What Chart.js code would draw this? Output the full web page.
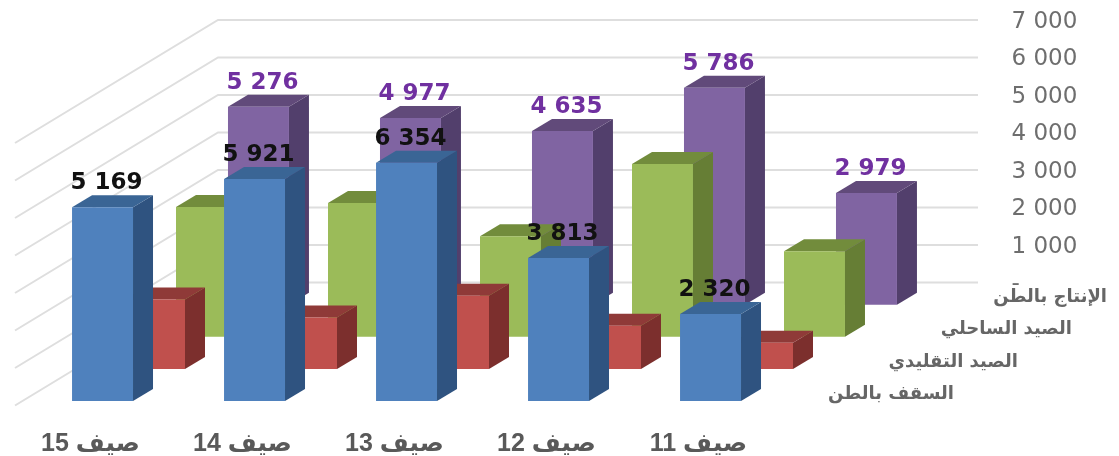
<!DOCTYPE html>
<html lang="ar">
<head>
<meta charset="utf-8">
<title>Chart</title>
<script src="https://cdn.jsdelivr.net/npm/chart.js@4"></script>
<style>
  html, body { margin: 0; padding: 0; background: #fff; }
  canvas { display: block; }
</style>
</head>
<body>
<canvas id="chart" width="1119" height="456"></canvas>
<script>
const categories = ["صيف 15", "صيف 14", "صيف 13", "صيف 12", "صيف 11"];

const ceilingValues = [5169, 5921, 6354, 3813, 2320];
const traditionalValues = [1850, 1370, 1950, 1150, 700];
const coastalValues = [3460, 3570, 2680, 4610, 2280];
const productionValues = [5276, 4977, 4635, 5786, 2979];

const seriesNames = ["السقف بالطن", "الصيد التقليدي", "الصيد الساحلي", "الإنتاج بالطن"];
const wallTicks = [0, 1000, 2000, 3000, 4000, 5000, 6000, 7000];

// every series stands on its own floor, further back in the fake 3D box
const SPAN = 10160;
const FLOOR_STEP = 856;
const WALL_MIN = -3160;
const DEPTH_X = 20;
const DEPTH_Y = 12;
const WALL_DX = 203;
const WALL_RIGHT = 978;
const NAME_RIGHT = [954, 1018, 1072, 1107];

const floorAxis = (k) => ({
  display: false,
  min: -FLOOR_STEP * k,
  max: SPAN - FLOOR_STEP * k
});

const formatValue = (v) => String(v).replace(/\B(?=(\d{3})+$)/g, " ");

const box3d = {
  id: "box3d",
  beforeDatasetsDraw(chart) {
    const { ctx, chartArea, scales } = chart;
    const backLeft = chartArea.left + 113.5;
    ctx.save();
    ctx.strokeStyle = "#dedede";
    ctx.lineWidth = 2;
    wallTicks.forEach((t) => {
      const y = scales.wall.getPixelForValue(t);
      ctx.beginPath();
      ctx.moveTo(WALL_RIGHT, y);
      ctx.lineTo(backLeft, y);
      ctx.lineTo(backLeft - WALL_DX, y + WALL_DX * 0.606);
      ctx.stroke();
    });
    ctx.restore();
  },
  beforeDatasetDraw(chart, args) {
    const { ctx } = chart;
    const ds = chart.data.datasets[args.index];
    ctx.save();
    args.meta.data.forEach((bar) => {
      const right = bar.x + bar.width / 2;
      const left = bar.x - bar.width / 2;
      ctx.fillStyle = ds.sideColor;
      ctx.beginPath();
      ctx.moveTo(right, bar.y);
      ctx.lineTo(right + DEPTH_X, bar.y - DEPTH_Y);
      ctx.lineTo(right + DEPTH_X, bar.base - DEPTH_Y);
      ctx.lineTo(right, bar.base);
      ctx.closePath();
      ctx.fill();
      ctx.fillStyle = ds.topColor;
      ctx.beginPath();
      ctx.moveTo(left, bar.y);
      ctx.lineTo(left + DEPTH_X, bar.y - DEPTH_Y);
      ctx.lineTo(right + DEPTH_X, bar.y - DEPTH_Y);
      ctx.lineTo(right, bar.y);
      ctx.closePath();
      ctx.fill();
    });
    ctx.restore();
  },
  afterDatasetsDraw(chart) {
    const { ctx } = chart;
    ctx.save();
    chart.data.datasets.forEach((ds, i) => {
      const meta = chart.getDatasetMeta(i);
      // depth axis name, next to the floor of its series
      ctx.font = 'bold 18px "DejaVu Sans"';
      ctx.fillStyle = "#666666";
      ctx.textAlign = "right";
      ctx.textBaseline = "middle";
      ctx.fillText(seriesNames[i], NAME_RIGHT[i], meta.data[0].base - 7);

      if (!ds.valueColor) return;
      ctx.font = 'bold 23px "DejaVu Sans"';
      ctx.fillStyle = ds.valueColor;
      ctx.textAlign = "center";
      meta.data.forEach((bar, j) => {
        ctx.fillText(formatValue(ds.data[j]), bar.x + 4, bar.y - 24);
      });
    });
    ctx.restore();
  }
};

new Chart(document.getElementById("chart"), {
  type: "bar",
  data: {
    labels: categories,
    datasets: [
      { label: seriesNames[0], data: ceilingValues, yAxisID: "y0", clip: false, backgroundColor: "#4f81bd", topColor: "#3a6595", sideColor: "#2f5380", valueColor: "#111111" },
      { label: seriesNames[1], data: traditionalValues, yAxisID: "y1", clip: false, backgroundColor: "#c0504d", topColor: "#8f3a38", sideColor: "#7c2f2d" },
      { label: seriesNames[2], data: coastalValues, yAxisID: "y2", clip: false, backgroundColor: "#9bbb59", topColor: "#728c3c", sideColor: "#667e35" },
      { label: seriesNames[3], data: productionValues, yAxisID: "y3", clip: false, backgroundColor: "#8064a2", topColor: "#614a7a", sideColor: "#523f6c", valueColor: "#7030a0" }
    ]
  },
  plugins: [box3d],
  options: {
    responsive: false,
    animation: false,
    categoryPercentage: 1.368,
    barPercentage: 1.173,
    layout: { padding: { left: 104.5, top: 20 } },
    plugins: { legend: { display: false }, tooltip: { enabled: false } },
    scales: {
      x: {
        grid: { display: false },
        border: { display: false },
        afterFit(scale) {
          scale.height = 55;
          scale.paddingLeft = 0;
          scale.paddingRight = 0;
        },
        ticks: {
          color: "#595959",
          font: { family: '"Liberation Sans", "DejaVu Sans"', size: 25, weight: "bold" },
          labelOffset: -90,
          padding: 20,
          maxRotation: 0
        }
      },
      y0: floorAxis(0),
      y1: floorAxis(1),
      y2: floorAxis(2),
      y3: floorAxis(3),
      wall: {
        position: "right",
        min: WALL_MIN,
        max: WALL_MIN + SPAN,
        grid: { display: false },
        border: { display: false },
        afterBuildTicks(scale) { scale.ticks = wallTicks.map((value) => ({ value })); },
        afterFit(scale) {
          // tick padding also counts as vertical margin, which would squash the chart area
          scale.width = 254.5;
          scale.paddingTop = 0;
          scale.paddingBottom = 0;
        },
        ticks: {
          color: "#6e6e6e",
          font: { family: '"DejaVu Sans"', size: 23 },
          padding: 139,
          labelOffset: 2,
          callback: (v) => (v === 0 ? "-" : formatValue(v))
        }
      }
    }
  }
});
</script>
</body>
</html>
